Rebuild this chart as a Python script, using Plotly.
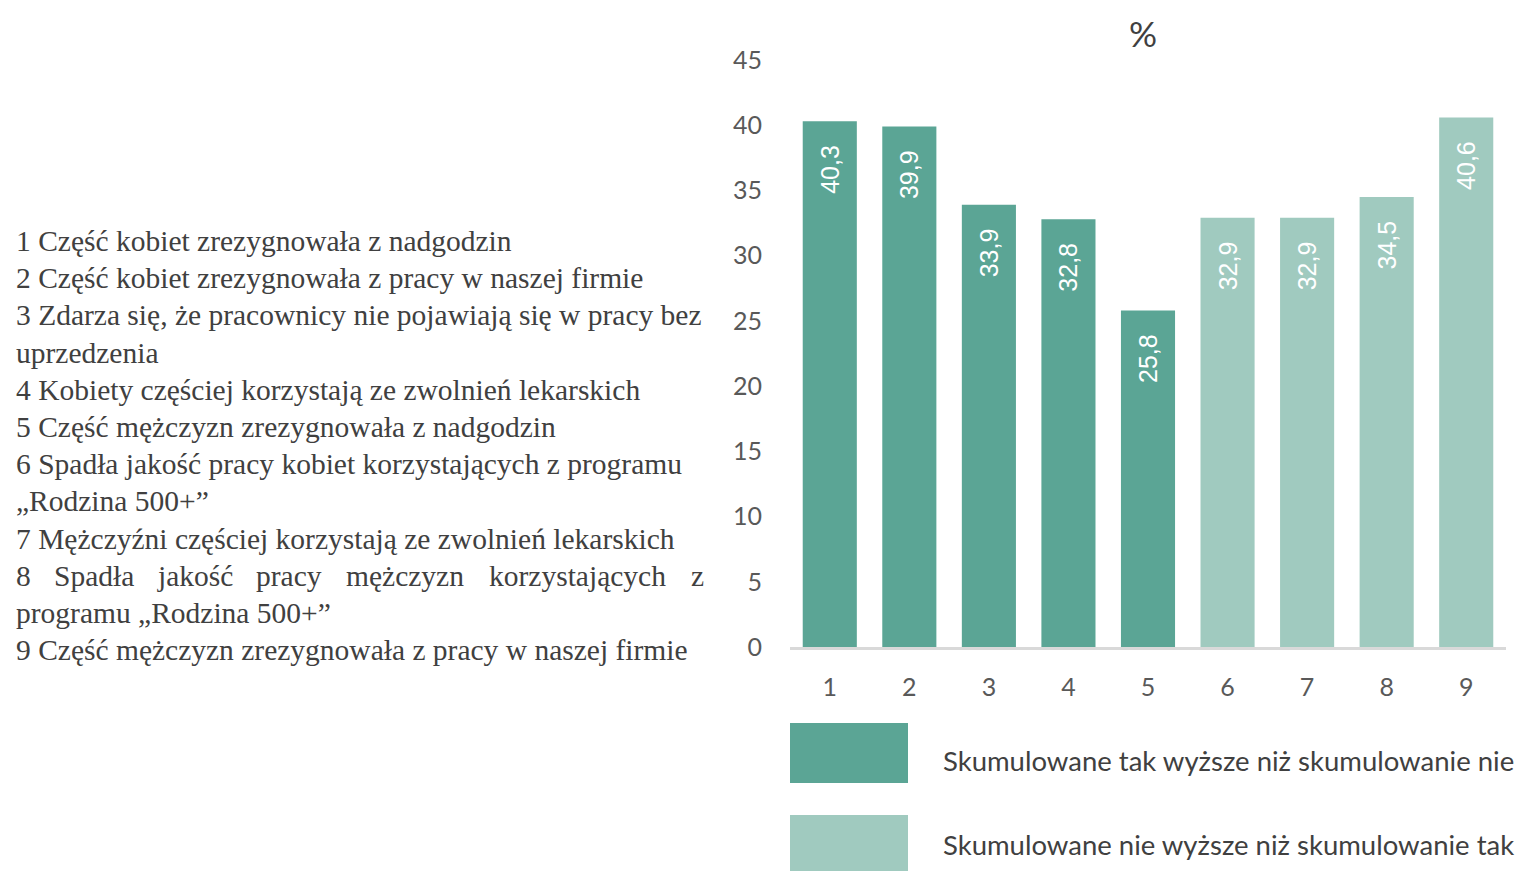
import plotly.graph_objects as go

categories = ["1", "2", "3", "4", "5", "6", "7", "8", "9"]
values_tak = [40.3, 39.9, 33.9, 32.8, 25.8]
values_nie = [32.9, 32.9, 34.5, 40.6]
cats_tak = categories[:5]
cats_nie = categories[5:]
series_names = ["Skumulowane tak wyższe niż skumulowanie nie",
                "Skumulowane nie wyższe niż skumulowanie tak"]
colors = ["#5BA595", "#A0CABF"]
y_ticks = [0, 5, 10, 15, 20, 25, 30, 35, 40, 45]

left_lines = [
    "1 Część kobiet zrezygnowała z nadgodzin",
    "2 Część kobiet zrezygnowała z pracy w naszej firmie",
    "3 Zdarza się, że pracownicy nie pojawiają się w pracy bez",
    "uprzedzenia",
    "4 Kobiety częściej korzystają ze zwolnień lekarskich",
    "5 Część mężczyzn zrezygnowała z nadgodzin",
    "6 Spadła jakość pracy kobiet korzystających z programu",
    "„Rodzina 500+”",
    "7 Mężczyźni częściej korzystają ze zwolnień lekarskich",
    None,
    "programu „Rodzina 500+”",
    "9 Część mężczyzn zrezygnowała z pracy w naszej firmie",
]
justified_words = ["8", "Spadła", "jakość", "pracy", "mężczyzn", "korzystających", "z"]
justified_x = [15, 53, 156, 255, 345, 488, 690]

# page has an 8px body margin: page coords = figure coords + 8
OFF = 8
W, H = 1524 - OFF, 871 - OFF
PL, PR, PT, PB = 790 - OFF, 1506 - OFF, 60 - OFF, 647 - OFF


def xp(px):
    return (px - OFF - PL) / (PR - PL)


def yp(py):
    return (PB - (py - OFF)) / (PB - PT)


fig = go.Figure()
label_font = dict(family="Liberation Sans, Arial", size=25, color="white")
for cats, vals, name, col in [(cats_tak, values_tak, series_names[0], colors[0]),
                              (cats_nie, values_nie, series_names[1], colors[1])]:
    fig.add_trace(go.Bar(
        x=cats, y=vals, name=name, marker=dict(color=col, line=dict(width=0)),
        texttemplate="%{y:.1f}\u00a0\u00a0\u00a0", textposition="inside",
        insidetextanchor="end", textangle=-90, insidetextfont=label_font,
        showlegend=False, hoverinfo="x+y",
    ))

text_color = "#404040"
serif = "Liberation Serif, Times New Roman, serif"
SERIF_SIZE = 29.5
ann = []
line_y0 = 241
line_step = 37.2
for i, line in enumerate(left_lines):
    if line is None:
        continue
    ann.append(dict(text=line, x=xp(14), y=yp(line_y0 + i * line_step), xref="paper", yref="paper",
                    xanchor="left", yanchor="middle", showarrow=False,
                    font=dict(family=serif, size=SERIF_SIZE, color=text_color)))
for w, x in zip(justified_words, justified_x):
    ann.append(dict(text=w, x=xp(x - 1), y=yp(line_y0 + 9 * line_step), xref="paper", yref="paper",
                    xanchor="left", yanchor="middle", showarrow=False,
                    font=dict(family=serif, size=SERIF_SIZE, color=text_color)))

sans = "Lato, Open Sans, sans-serif"
ann.append(dict(text="%", x=xp(1143), y=yp(33), xref="paper", yref="paper",
                xanchor="center", yanchor="middle", showarrow=False,
                font=dict(family=sans, size=35, color=text_color)))

shapes = []
legend_rows = [(723, 783), (815, 875)]
legend_text_y = [760, 844]
for (y0, y1), ty, col, name in zip(legend_rows, legend_text_y, colors, series_names):
    shapes.append(dict(type="rect", xref="paper", yref="paper",
                       x0=xp(790), x1=xp(908), y0=yp(y1), y1=yp(y0),
                       fillcolor=col, line=dict(width=0)))
    ann.append(dict(text=name, x=xp(941), y=yp(ty), xref="paper", yref="paper",
                    xanchor="left", yanchor="middle", showarrow=False,
                    font=dict(family=sans, size=27.5, color="#404040")))

fig.update_layout(
    width=W, height=H, autosize=False,
    margin=dict(l=PL, r=W - PR, t=PT, b=H - PB, pad=0),
    paper_bgcolor="white", plot_bgcolor="white",
    bargap=0.32, separators=", ",
    annotations=ann, shapes=shapes,
    xaxis=dict(categoryorder="array", categoryarray=categories, showgrid=False,
               showline=True, linecolor="#D9D9D9", linewidth=3, ticks="",
               tickfont=dict(family=sans, size=25, color="#595959"),
               ticklabelstandoff=16, fixedrange=True),
    yaxis=dict(range=[0, 45], tickvals=y_ticks, showgrid=False, showline=False,
               zeroline=False, ticks="",
               tickfont=dict(family=sans, size=25, color="#595959"),
               ticklabelstandoff=27, fixedrange=True),
)

fig.write_html("out.html")
